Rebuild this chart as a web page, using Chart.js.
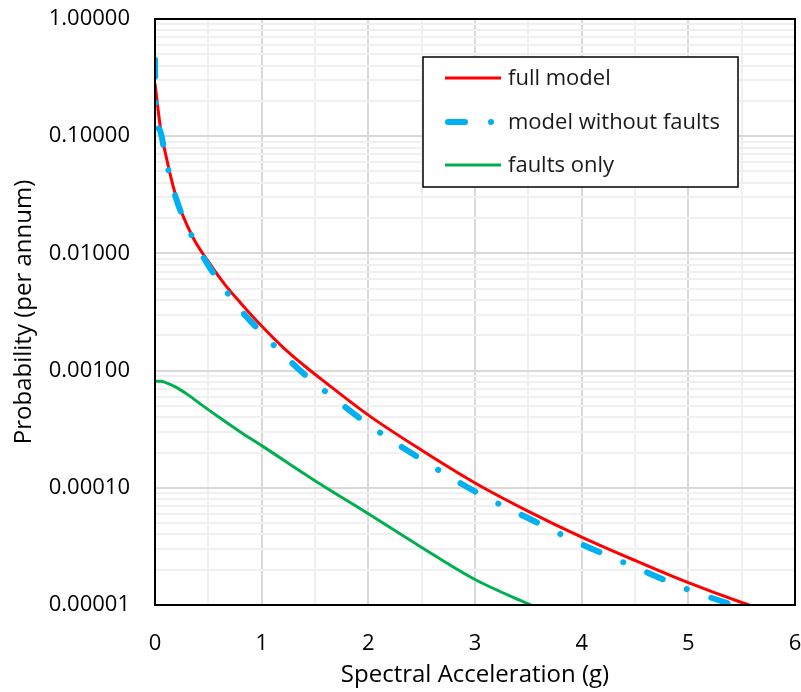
<!DOCTYPE html>
<html>
<head>
<meta charset="utf-8">
<script src="https://cdn.jsdelivr.net/npm/chart.js@4.4.1/dist/chart.umd.min.js"></script>
<style>
  html, body { margin: 0; padding: 0; background: #ffffff; }
  #wrap { width: 801px; height: 692px; }
</style>
</head>
<body>
<div id="wrap"><canvas id="hazardChart" width="801" height="692"></canvas></div>
<script>
// Hazard curves
const fullX = [0, 0.05, 0.1, 0.2, 0.35, 0.5, 0.65, 0.8, 1.0, 1.2, 1.4, 1.6, 2.0, 2.5, 3.0, 3.5, 4.0, 4.5, 5.0, 5.5, 5.6];
const fullY = [0.28, 0.12, 0.07, 0.03, 0.014, 0.0085, 0.0055, 0.0038, 0.0024, 0.00158, 0.0011, 0.00079, 0.000417, 0.000209, 0.00011, 0.000063, 0.000038, 0.000024, 0.0000155, 0.0000105, 0.0000098];

const noFaultX = [0, 0.005, 0.05, 0.1, 0.2, 0.35, 0.5, 0.65, 0.8, 1.0, 1.2, 1.4, 1.6, 2.0, 2.5, 3.0, 3.5, 4.0, 4.5, 5.0, 5.45];
const noFaultY = [0.45, 0.2, 0.11, 0.065, 0.029, 0.0138, 0.0079, 0.0050, 0.0033, 0.0021, 0.00138, 0.00093, 0.00066, 0.000347, 0.000174, 0.000093, 0.000055, 0.000033, 0.000021, 0.0000135, 0.0000098];

const faultX = [0, 0.05, 0.1, 0.2, 0.3, 0.45, 0.6, 0.8, 1.0, 1.5, 2.0, 2.5, 3.0, 3.5, 3.6];
const faultY = [0.00081, 0.00081, 0.00079, 0.00072, 0.00063, 0.0005, 0.0004, 0.0003, 0.000229, 0.000115, 0.00006, 0.000031, 0.0000165, 0.0000102, 0.0000093];

const seriesNames = ['full model', 'model without faults', 'faults only'];
const yTicks = [1, 0.1, 0.01, 0.001, 0.0001, 0.00001];

function toPoints(xs, ys) {
    return xs.map((x, i) => ({ x: x, y: ys[i] }));
}

// all log gridline values: 1..9 x each decade
function logGridValues() {
    const vals = [];
    for (let e = -5; e < 0; e++) {
        for (let m = 1; m < 10; m++) vals.push(m * Math.pow(10, e));
    }
    vals.push(1);
    return vals;
}

function isDecade(v) {
    return yTicks.some(t => Math.abs(v - t) / t < 1e-6);
}

// frame around the plot area + boxed legend inside it
const framePlugin = {
    id: 'frameAndLegend',
    afterDatasetsDraw(chart) {
        const { ctx, chartArea: a } = chart;
        ctx.save();
        ctx.strokeStyle = '#000000';
        ctx.lineWidth = 2;
        ctx.strokeRect(a.left, a.top, a.right - a.left, a.bottom - a.top);

        // legend
        const bx = 423, by = 57, bw = 315, bh = 130;
        ctx.fillStyle = '#ffffff';
        ctx.fillRect(bx, by, bw, bh);
        ctx.lineWidth = 1.5;
        ctx.strokeRect(bx, by, bw, bh);

        const rows = [78, 122, 165];
        chart.data.datasets.forEach((ds, i) => {
            const y = rows[i];
            ctx.beginPath();
            ctx.strokeStyle = ds.borderColor;
            ctx.lineWidth = ds.borderWidth;
            ctx.lineCap = ds.borderCapStyle || 'butt';
            ctx.setLineDash(ds.borderDash || []);
            ctx.moveTo(ds.borderDash ? 448 : 445, y);
            ctx.lineTo(ds.borderDash ? 492 : 501, y);
            ctx.stroke();
            ctx.setLineDash([]);
            ctx.fillStyle = '#1a1a1a';
            ctx.font = '22px "Open Sans"';
            ctx.textBaseline = 'middle';
            ctx.textAlign = 'left';
            ctx.fillText(ds.label, 508, y + 1);
        });
        ctx.restore();
    }
};

const ctx = document.getElementById('hazardChart').getContext('2d');

new Chart(ctx, {
    type: 'line',
    data: {
        datasets: [
            {
                label: seriesNames[0],
                data: toPoints(fullX, fullY),
                borderColor: '#ff0000',
                borderWidth: 3,
                pointRadius: 0,
                cubicInterpolationMode: 'monotone',
                order: 1
            },
            {
                label: seriesNames[1],
                data: toPoints(noFaultX, noFaultY),
                borderColor: '#00b0f0',
                borderWidth: 6,
                borderDash: [17, 26, 0.01, 26],
                borderCapStyle: 'round',
                pointRadius: 0,
                cubicInterpolationMode: 'monotone',
                order: 0
            },
            {
                label: seriesNames[2],
                data: toPoints(faultX, faultY),
                borderColor: '#00b050',
                borderWidth: 3,
                pointRadius: 0,
                cubicInterpolationMode: 'monotone',
                order: 2
            }
        ]
    },
    options: {
        responsive: false,
        animation: false,
        layout: { padding: { top: 19, right: 6, left: 0, bottom: 0 } },
        plugins: {
            legend: { display: false },
            tooltip: { enabled: false }
        },
        scales: {
            x: {
                type: 'linear',
                min: 0,
                max: 6,
                afterFit: scale => {
                    scale.height = 87;
                    scale.paddingLeft = 0;
                    scale.paddingRight = 0;
                },
                ticks: {
                    stepSize: 0.5,
                    autoSkip: false,
                    maxRotation: 0,
                    padding: 26,
                    color: '#000000',
                    font: { family: '"Open Sans"', size: 22 },
                    callback: v => (Number.isInteger(v) ? String(v) : '')
                },
                grid: {
                    drawTicks: false,
                    color: c => (Number.isInteger(c.tick.value) ? '#d9d9d9' : '#f0f0f0'),
                    lineWidth: 2
                },
                border: { display: false },
                title: {
                    display: true,
                    text: 'Spectral Acceleration (g)',
                    color: '#000000',
                    font: { family: '"Open Sans"', size: 24 },
                    padding: { top: 0, bottom: 2 }
                }
            },
            y: {
                type: 'logarithmic',
                min: 0.00001,
                max: 1,
                afterFit: scale => {
                    scale.width = 155;
                    scale.paddingTop = 0;
                    scale.paddingBottom = 0;
                },
                afterBuildTicks: scale => {
                    scale.ticks = logGridValues().map(v => ({ value: v, major: isDecade(v) }));
                },
                ticks: {
                    autoSkip: false,
                    padding: 25,
                    color: '#000000',
                    font: { family: '"Open Sans"', size: 22 },
                    callback: v => (isDecade(v) ? v.toFixed(5) : '')
                },
                grid: {
                    drawTicks: false,
                    color: c => (isDecade(c.tick.value) ? '#d9d9d9' : '#f0f0f0'),
                    lineWidth: 2
                },
                border: { display: false },
                title: {
                    display: true,
                    text: 'Probability (per annum)',
                    color: '#000000',
                    font: { family: '"Open Sans"', size: 24 },
                    padding: { top: 10, bottom: 0 }
                }
            }
        }
    },
    plugins: [framePlugin]
});
</script>
</body>
</html>
